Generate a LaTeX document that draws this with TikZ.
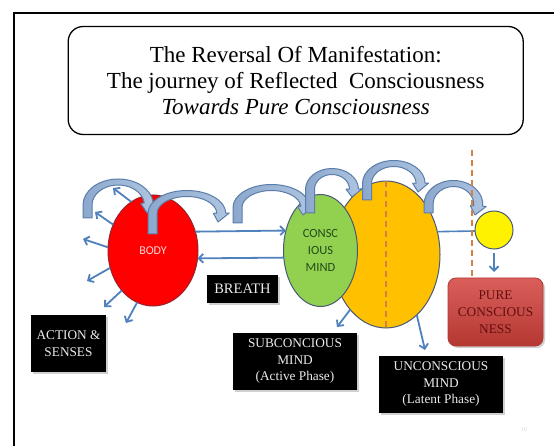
\documentclass[tikz,border=0pt]{standalone}
\usepackage{fontspec}
\setmainfont{Liberation Serif}
\newfontfamily\calfont{Carlito}
\usetikzlibrary{shapes.geometric,arrows.meta,shadows}
\definecolor{blueL}{RGB}{79,129,189}
\definecolor{edgeC}{RGB}{70,90,120}
\definecolor{orangeF}{RGB}{255,192,0}
\definecolor{greenF}{RGB}{146,208,80}
\definecolor{redF}{RGB}{255,0,0}
\definecolor{redE}{RGB}{150,35,45}
\definecolor{dashC}{RGB}{210,130,70}
\definecolor{cafill}{RGB}{175,197,225}
\definecolor{cafillB}{RGB}{140,168,205}
\definecolor{caedge}{RGB}{90,125,170}
\definecolor{pureTop}{RGB}{218,95,90}
\definecolor{pureBot}{RGB}{180,55,50}
\definecolor{pureText}{RGB}{100,15,15}
\definecolor{boxText}{RGB}{235,235,235}
\definecolor{mindText}{RGB}{35,75,25}
\definecolor{bodyText}{RGB}{255,215,215}
\newcommand{\carrow}[6]{%
\begin{scope}[shift={(#1,-#2)}]
\pgfmathsetmacro{\oax}{#3+4.5}\pgfmathsetmacro{\oay}{#4+3}%
\pgfmathsetmacro{\iax}{#3-4.5}\pgfmathsetmacro{\iay}{#4-3}%
\pgfmathsetmacro{\hox}{#3+8}\pgfmathsetmacro{\hoy}{#4+7}%
\pgfmathsetmacro{\hix}{#3-8}\pgfmathsetmacro{\hiy}{#4-7}%
\pgfmathsetmacro{\leg}{#2-#5}%
\pgfmathsetmacro{\te}{26-#6}%
\pgfmathsetmacro{\tipa}{-#6}%
\path[curvearrow] (-\oax,\leg) -- (-\oax,0)
  arc[start angle=180,end angle=\te,x radius=\oax pt,y radius=\oay pt]
  -- (\te:\hox pt and \hoy pt) -- (\tipa:#3pt and #4pt) -- (\te:\hix pt and \hiy pt)
  -- (\te:\iax pt and \iay pt)
  arc[start angle=\te,end angle=180,x radius=\iax pt,y radius=\iay pt]
  -- (-\iax,\leg) -- cycle;
\end{scope}}
\begin{document}
\begin{tikzpicture}[x=1pt,y=1pt,
  ell/.style={ellipse, inner sep=0pt, outer sep=0pt, line width=1pt},
  bluearrow/.style={draw=blueL, line width=1.8pt, -{Straight Barb[length=4.5pt,width=9pt]}},
  blueline/.style={draw=blueL, line width=1.6pt},
  dashO/.style={draw=dashC, line width=1.4pt, dash pattern=on 6pt off 4pt},
  curvearrow/.style={left color=cafillB, right color=cafill, draw=caedge, line width=1pt, line join=round},
  blackbox/.style={fill=black, text=boxText, inner sep=0pt, align=center,
    font=\fontsize{13.3}{16.5}\selectfont,
    drop shadow={shadow xshift=2pt, shadow yshift=-2pt, fill=black!30, opacity=0.6}},
  titlebox/.style={draw, rounded corners=15pt, line width=1.3pt, inner sep=0pt, align=center,
    font=\fontsize{23}{26}\selectfont}]
\useasboundingbox (0,0) rectangle (554,-446);
\fill[white] (0,0) rectangle (554,-446);
% frame
\draw[line width=1.5pt] (14,-446) -- (14,-13) -- (554,-13);
% title
\node[titlebox, minimum width=455pt, minimum height=108pt] (title) at (295.7,-80.5)
  {The Reversal Of Manifestation:\\The journey of Reflected\ \ Consciousness\\\textit{Towards Pure Consciousness}};
% ellipses
\node[ell, fill=orangeF, draw=edgeC, minimum width=108pt, minimum height=147pt] (orange) at (386,-254.5) {};
\draw[dashO] (orange.north) -- (orange.south);
\node[ell, fill=greenF, draw=edgeC, minimum width=74pt, minimum height=112pt, align=center,
  text=mindText, font=\calfont\fontsize{12.5}{17}\selectfont] (green) at (320.5,-250.5) {CONSC\\IOUS\\MIND};
\node[ell, fill=redF, draw=redE, minimum width=90pt, minimum height=111pt, text=bodyText,
  font=\calfont\fontsize{12}{14}\selectfont] (body) at (153,-250.5) {BODY};
\node[circle, fill=yellow, draw=edgeC, line width=1pt, minimum size=38pt, inner sep=0pt, outer sep=0pt] (sun) at (494,-230) {};
% boxes
\node[blackbox, minimum width=71pt, minimum height=28pt, font=\fontsize{14.5}{16}\selectfont] (breath) at (242.5,-289) {BREATH};
\node[blackbox, minimum width=75pt, minimum height=57pt] (action) at (68.5,-343.5) {ACTION \&\\SENSES};
\node[blackbox, minimum width=124pt, minimum height=57pt] (subc) at (295,-361.5) {SUBCONCIOUS\\MIND\\(Active Phase)};
\node[blackbox, minimum width=124pt, minimum height=57pt] (unc) at (441,-384.5) {UNCONSCIOUS\\MIND\\(Latent Phase)};
\node[rounded corners=8pt, top color=pureTop, bottom color=pureBot, draw=pureBot, line width=0.8pt,
  minimum width=95pt, minimum height=68pt, inner sep=0pt, align=center, text=pureText,
  font=\fontsize{13.3}{17}\selectfont,
  drop shadow={shadow xshift=2pt, shadow yshift=-2pt, fill=black!30, opacity=0.6}] (pure) at (495.5,-312) {PURE\\CONSCIOUS\\NESS};
% breath arrows
\draw[bluearrow] (body.24.85) -- (green.150.67);
\draw[bluearrow] (green.191.56) -- (body.350.45);
\draw[blueline] (orange.24.65) -- (sun.183);
% action arrows
\coordinate (tA) at (113,-188);
\coordinate (tB) at (95,-212);
\coordinate (tC) at (83,-239);
\coordinate (tD) at (87,-281);
\coordinate (tE) at (104,-307);
\coordinate (tF) at (126,-323);
\draw[bluearrow] (body.114) -- (tA);
\draw[bluearrow] (body.147.4) -- (tB);
\draw[bluearrow] (body.176.8) -- (tC);
\draw[bluearrow] (body.202.1) -- (tD);
\draw[bluearrow] (body.232.4) -- (tE);
\draw[bluearrow] (body.253.6) -- (tF);
% mind arrows
\coordinate (tS) at (337,-327);
\coordinate (tU) at (425,-350);
\draw[bluearrow] (orange.237.8) -- (tS);
\draw[bluearrow] (orange.297.8) -- (tU);
\coordinate (tP) at (494,-272);
\draw[bluearrow, shorten <=4pt] (sun.south) -- (tP);
% curved arrows
\carrow{118.2}{205.1}{30.7}{23.1}{218}{20}
\carrow{186.9}{213.5}{34.4}{20.0}{234}{25}
\carrow{271.5}{207.5}{34.0}{20.0}{223}{22}
\carrow{332}{189.4}{22.0}{17.9}{213}{25}
\carrow{393.8}{183.5}{26.8}{20.0}{200}{25}
\carrow{453.4}{204.5}{24.9}{21.0}{213}{30}
% dashed separator
\coordinate (dtop) at (472,-150);
\draw[dashO] (dtop) -- (pure.north -| dtop);
% page number
\node[text=black!15, font=\fontsize{6}{7}\selectfont] (pnum) at (524,-430) {10};
\end{tikzpicture}
\end{document}
